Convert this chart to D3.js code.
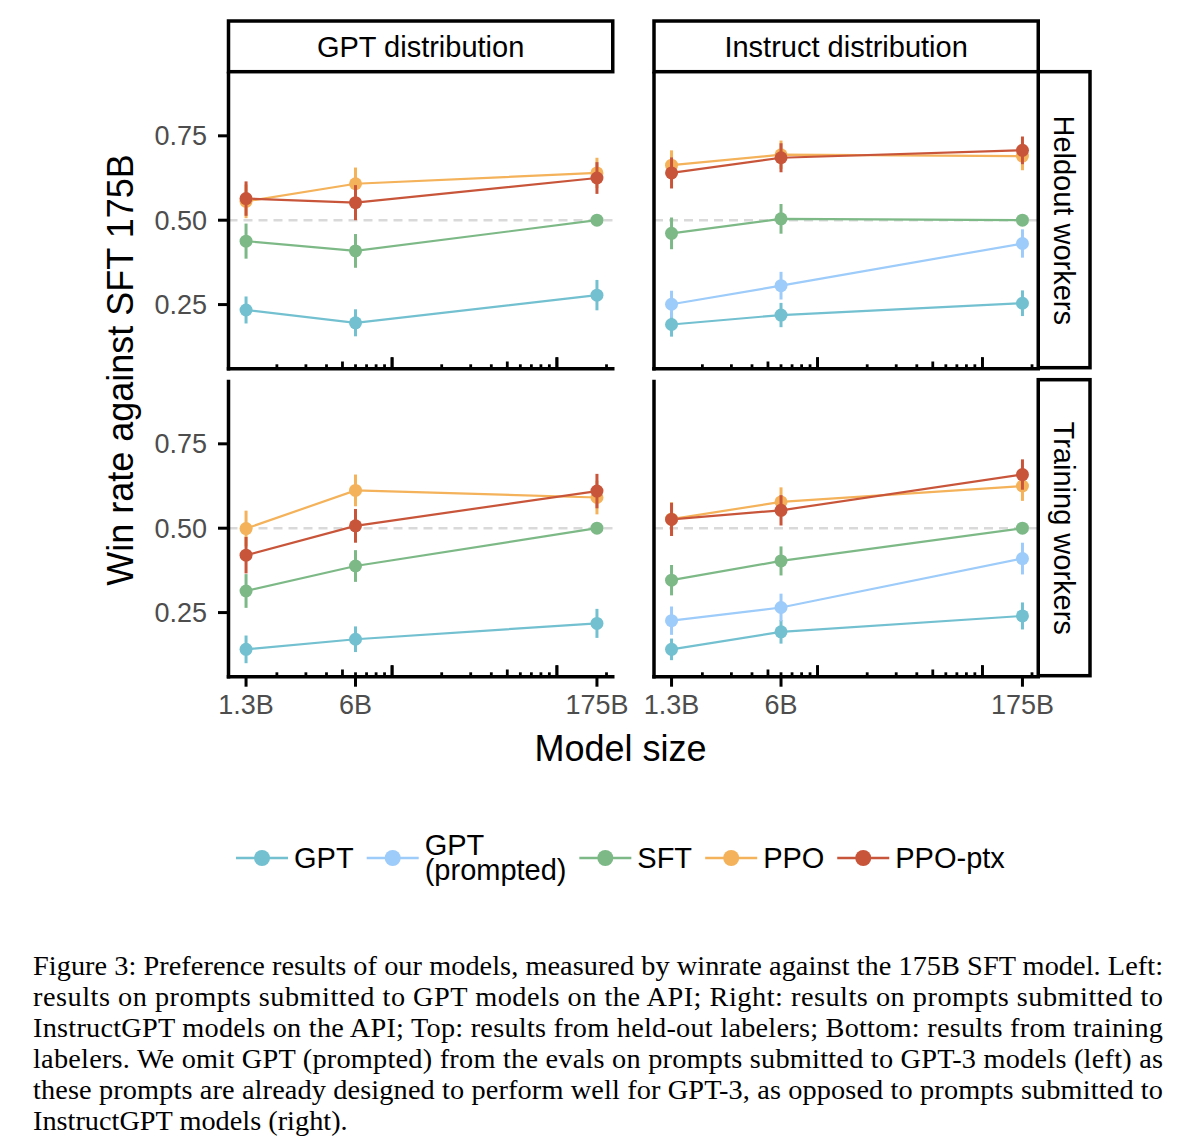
<!DOCTYPE html>
<html>
<head>
<meta charset="utf-8">
<script src="https://cdn.jsdelivr.net/npm/d3@7"></script>
<style>
  html, body { margin: 0; padding: 0; background: #fff; }
  svg { display: block; }
</style>
</head>
<body>
<svg id="chart" width="1197" height="1144"></svg>
<script>
// ---------------- DATA ----------------
const sizes = [1.3, 6, 175];
const sizeLabels = ["1.3B", "6B", "175B"];
const seriesNames = ["GPT", "GPT (prompted)", "SFT", "PPO", "PPO-ptx"];
const seriesColors = ["#72C0D0", "#9DCBFA", "#7DB987", "#F4B25A", "#C8553A"];
const columnLabels = ["GPT distribution", "Instruct distribution"];
const rowLabels = ["Heldout workers", "Training workers"];
const yTickValues = [0.25, 0.5, 0.75];
const yTickLabels = ["0.25", "0.50", "0.75"];
const referenceLevel = 0.5;

// win rates, one row per series (GPT, GPT prompted, SFT, PPO, PPO-ptx); null = not evaluated
const heldoutGptDistMean = [[0.234, 0.196, 0.278], null, [0.438, 0.409, 0.500], [0.556, 0.608, 0.640], [0.564, 0.552, 0.625]];
const heldoutGptDistErr  = [[0.040, 0.040, 0.045], null, [0.052, 0.050, 0.000], [0.050, 0.048, 0.045], [0.051, 0.052, 0.047]];
const heldoutInstructMean = [[0.191, 0.219, 0.254], [0.251, 0.306, 0.431], [0.461, 0.504, 0.500], [0.663, 0.694, 0.690], [0.640, 0.685, 0.707]];
const heldoutInstructErr  = [[0.036, 0.036, 0.038], [0.040, 0.041, 0.042], [0.047, 0.044, 0.000], [0.044, 0.042, 0.042], [0.046, 0.043, 0.041]];
const trainingGptDistMean = [[0.141, 0.171, 0.218], null, [0.314, 0.388, 0.500], [0.499, 0.612, 0.591], [0.420, 0.507, 0.610]];
const trainingGptDistErr  = [[0.041, 0.038, 0.043], null, [0.050, 0.047, 0.000], [0.053, 0.047, 0.050], [0.054, 0.050, 0.051]];
const trainingInstructMean = [[0.141, 0.193, 0.240], [0.226, 0.265, 0.410], [0.346, 0.403, 0.500], [0.527, 0.578, 0.625], [0.526, 0.553, 0.659]];
const trainingInstructErr  = [[0.032, 0.035, 0.040], [0.042, 0.041, 0.047], [0.045, 0.043, 0.000], [0.050, 0.043, 0.044], [0.049, 0.045, 0.045]];

const captionLines = [
  "Figure 3: Preference results of our models, measured by winrate against the 175B SFT model. Left:",
  "results on prompts submitted to GPT models on the API; Right: results on prompts submitted to",
  "InstructGPT models on the API; Top: results from held-out labelers; Bottom: results from training",
  "labelers. We omit GPT (prompted) from the evals on prompts submitted to GPT-3 models (left) as",
  "these prompts are already designed to perform well for GPT-3, as opposed to prompts submitted to",
  "InstructGPT models (right)."
];

// ---------------- LAYOUT ----------------
const svg = d3.select("#chart");
svg.append("rect").attr("width", 1197).attr("height", 1144).attr("fill", "#fff");

const sansFont = "'Liberation Sans', Arimo, Helvetica, Arial, sans-serif";
const serifFont = "'Liberation Serif', 'Times New Roman', serif";
const panelW = 386, panelH = 297;
const colX = [228.5, 654];
const rowY = [71.7, 379.7];
const lineW = 3.5;

const panels = [
  {row: 0, col: 0, mean: heldoutGptDistMean, err: heldoutGptDistErr},
  {row: 0, col: 1, mean: heldoutInstructMean, err: heldoutInstructErr},
  {row: 1, col: 0, mean: trainingGptDistMean, err: trainingGptDistErr},
  {row: 1, col: 1, mean: trainingInstructMean, err: trainingInstructErr}
];

// log x-scale with 5% expansion like ggplot
const lmin = Math.log10(d3.min(sizes)), lmax = Math.log10(d3.max(sizes));
const ex = (lmax - lmin) * 0.05;
const x = d3.scaleLog().domain([Math.pow(10, lmin - ex), Math.pow(10, lmax + ex)]).range([0, panelW]);
const y = d3.scaleLinear().domain([0.06, 0.94]).range([panelH, 0]);

// log tick positions (annotation_logticks)
const logTicks = [];
[1, 10, 100].forEach(dec => {
  for (let k = 1; k <= 10; k++) {
    const v = dec * k;
    const [a, b] = x.domain();
    if (v >= a && v <= b) logTicks.push({v, kind: k === 10 || k === 1 ? "long" : (k === 5 ? "mid" : "short")});
  }
});
const logLen = {short: 4.4, mid: 7.2, long: 11.4};

const line = d3.line().x(d => x(d[0])).y(d => y(d[1]));

panels.forEach(p => {
  const g = svg.append("g").attr("transform", `translate(${colX[p.col]},${rowY[p.row]})`);

  // reference dashed line
  g.append("line")
    .attr("x1", 0).attr("x2", panelW)
    .attr("y1", y(referenceLevel)).attr("y2", y(referenceLevel))
    .attr("stroke", "#D9D9D9").attr("stroke-width", 2.4)
    .attr("stroke-dasharray", "9,6");

  // lines
  p.mean.forEach((vals, si) => {
    if (!vals) return;
    g.append("path")
      .datum(vals.map((v, i) => [sizes[i], v]))
      .attr("d", line).attr("fill", "none")
      .attr("stroke", seriesColors[si]).attr("stroke-width", 2.2);
  });
  // point ranges
  p.mean.forEach((vals, si) => {
    if (!vals) return;
    const errs = p.err[si];
    vals.forEach((v, i) => {
      if (errs[i] > 0) {
        g.append("line")
          .attr("x1", x(sizes[i])).attr("x2", x(sizes[i]))
          .attr("y1", y(v - errs[i])).attr("y2", y(v + errs[i]))
          .attr("stroke", seriesColors[si]).attr("stroke-width", 3);
      }
      g.append("circle")
        .attr("cx", x(sizes[i])).attr("cy", y(v)).attr("r", 6.5)
        .attr("fill", seriesColors[si]);
    });
  });

  // log ticks inside bottom
  g.selectAll(".logtick").data(logTicks).enter().append("line")
    .attr("x1", d => x(d.v)).attr("x2", d => x(d.v))
    .attr("y1", panelH).attr("y2", d => panelH - logLen[d.kind])
    .attr("stroke", "#000").attr("stroke-width", 2.8);

  // axis lines
  g.append("line").attr("x1", 0).attr("x2", 0).attr("y1", 0).attr("y2", panelH + lineW / 2)
    .attr("stroke", "#000").attr("stroke-width", lineW);
  g.append("line").attr("x1", -lineW / 2).attr("x2", panelW).attr("y1", panelH).attr("y2", panelH)
    .attr("stroke", "#000").attr("stroke-width", lineW);

  // y axis ticks and labels (left column)
  if (p.col === 0) {
    yTickValues.forEach((t, i) => {
      g.append("line").attr("x1", -10.5).attr("x2", 0).attr("y1", y(t)).attr("y2", y(t))
        .attr("stroke", "#000").attr("stroke-width", 3);
      g.append("text").attr("x", -21.5).attr("y", y(t) + 9.5)
        .attr("text-anchor", "end").attr("font-family", sansFont).attr("font-size", 27)
        .attr("fill", "#4D4D4D").text(yTickLabels[i]);
    });
  }
  // x axis ticks and labels (bottom row)
  if (p.row === 1) {
    sizes.forEach((s, i) => {
      g.append("line").attr("x1", x(s)).attr("x2", x(s)).attr("y1", panelH).attr("y2", panelH + 10)
        .attr("stroke", "#000").attr("stroke-width", 3);
      g.append("text").attr("x", x(s)).attr("y", panelH + 37.5)
        .attr("text-anchor", "middle").attr("font-family", sansFont).attr("font-size", 27)
        .attr("fill", "#4D4D4D").text(sizeLabels[i]);
    });
  }
});

// top strips
columnLabels.forEach((lab, c) => {
  svg.append("rect").attr("x", colX[c]).attr("y", 21).attr("width", panelW - lineW / 2)
    .attr("height", rowY[0] - 21).attr("fill", "#fff").attr("stroke", "#000").attr("stroke-width", lineW);
  svg.append("text").attr("x", colX[c] + (panelW - lineW / 2) / 2).attr("y", 56.5)
    .attr("text-anchor", "middle").attr("font-family", sansFont).attr("font-size", 29)
    .attr("fill", "#000").text(lab);
});
// right strips
rowLabels.forEach((lab, r) => {
  const sx = colX[1] + panelW - lineW / 2, sw = 1090 - sx;
  svg.append("rect").attr("x", sx).attr("y", rowY[r]).attr("width", sw).attr("height", panelH - 1)
    .attr("fill", "#fff").attr("stroke", "#000").attr("stroke-width", lineW);
  svg.append("text").attr("transform", `translate(${sx + sw / 2 - 10.4},${rowY[r] + panelH / 2}) rotate(90)`)
    .attr("text-anchor", "middle").attr("font-family", sansFont).attr("font-size", 29)
    .attr("fill", "#000").text(lab);
});

// axis titles
svg.append("text").attr("transform", "translate(133,370) rotate(-90)")
  .attr("text-anchor", "middle").attr("font-family", sansFont).attr("font-size", 36)
  .attr("fill", "#000").text("Win rate against SFT 175B");
svg.append("text").attr("x", 620.5).attr("y", 761)
  .attr("text-anchor", "middle").attr("font-family", sansFont).attr("font-size", 36)
  .attr("fill", "#000").text("Model size");

// legend
const legendY = 858;
const leg = svg.append("g");
let lx = 236;
seriesNames.forEach((name, i) => {
  leg.append("line").attr("x1", lx).attr("x2", lx + 52).attr("y1", legendY).attr("y2", legendY)
    .attr("stroke", seriesColors[i]).attr("stroke-width", 2.4);
  leg.append("circle").attr("cx", lx + 26).attr("cy", legendY).attr("r", 8).attr("fill", seriesColors[i]);
  const parts = name === "GPT (prompted)" ? ["GPT", "(prompted)"] : [name];
  const t = leg.append("text").attr("font-family", sansFont).attr("font-size", 29).attr("fill", "#000");
  if (parts.length === 1) {
    t.append("tspan").attr("x", lx + 58).attr("y", legendY + 10.4).text(parts[0]);
  } else {
    t.append("tspan").attr("x", lx + 58).attr("y", legendY - 3).text(parts[0]);
    t.append("tspan").attr("x", lx + 58).attr("y", legendY + 22).text(parts[1]);
  }
  const w = t.node().getBBox().width;
  lx = lx + 58 + w + 12.8;
});

// caption
const cap = svg.append("g");
captionLines.forEach((ln, i) => {
  const t = cap.append("text").attr("x", 33).attr("y", 975 + i * 31)
    .attr("font-family", serifFont).attr("font-size", 28.3).attr("fill", "#000").text(ln);
  if (i < captionLines.length - 1) {
    t.attr("textLength", 1130).attr("lengthAdjust", "spacing");
  }
});
</script>
</body>
</html>
